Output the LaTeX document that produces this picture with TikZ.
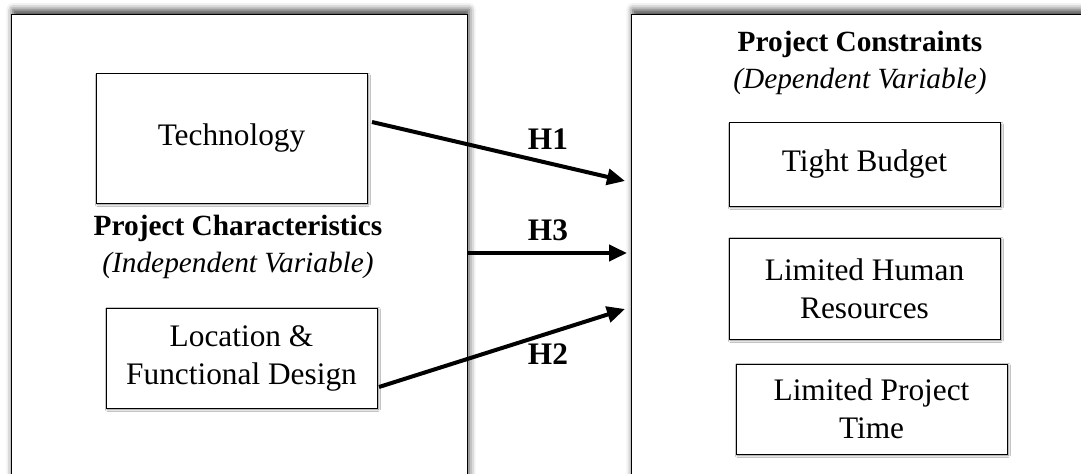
\documentclass[tikz,border=0pt]{standalone}
\usepackage{fontspec}
\setmainfont{Liberation Serif}
\usetikzlibrary{arrows.meta,shadows.blur}

\tikzset{every picture/.style={line width=0.75pt}}
\tikzset{
  txt/.style={font=\fontsize{23.5}{28.5}\selectfont, align=center},
  titletxt/.style={font=\fontsize{22}{28}\selectfont, align=center},
  outerbox/.style={draw, fill=white, minimum height=378.75pt, inner sep=0pt,
    blur shadow={shadow xshift=1.5pt, shadow yshift=4pt, shadow blur radius=5pt, shadow opacity=75}},
  varbox/.style={txt, draw, fill=white, minimum width=203.25pt, inner sep=0pt,
    blur shadow={shadow xshift=1pt, shadow yshift=-1pt, shadow blur radius=1.5pt, shadow opacity=50}},
  hyp/.style={line width=3pt, -{Triangle[length=13.5pt,width=12pt]}},
  hlabel/.style={txt, font=\fontsize{23.5}{28.5}\selectfont\bfseries}
}

\begin{document}
\begin{tikzpicture}[x=0.75pt,y=0.75pt,yscale=-1,xscale=1]
	\useasboundingbox (0,0) rectangle (1081,474);
	\clip (0,0) rectangle (1081,474);

	% Outer boxes
	\node[outerbox, minimum width=342pt] (charbox) at (239,267.5) {};
	\node[outerbox, minimum width=351.75pt] (consbox) at (865.5,267.5) {};

	% Independent variables
	\node[varbox, minimum height=96.75pt] (tech) at (231.5,138.5) {Technology};
	\node[varbox, minimum height=75pt] (loc) at (241.5,358) {Location \&\\Functional Design};
	\node[titletxt] (chartitle) at (238,247) {\textbf{Project Characteristics}\\\textit{(Independent Variable)}};

	% Dependent variables
	\node[titletxt] (constitle) at (860,63) {\textbf{Project Constraints}\\\textit{(Dependent Variable)}};
	\node[varbox, minimum height=62.25pt] (budget) at (864.5,164.5) {Tight Budget};
	\node[varbox, minimum height=75.75pt] (human) at (864.5,288.5) {Limited Human\\Resources};
	\node[varbox, minimum height=67.5pt] (ptime) at (871.5,409) {Limited Project\\Time};

	% Hypotheses
	\coordinate (h1start) at (372,122);
	\coordinate (h1end) at (625,181);
	\coordinate (h3start) at (468,253);
	\coordinate (h3end) at (627,253);
	\coordinate (h2start) at (379,387);
	\coordinate (h2end) at (625,309);
	\draw[hyp] (h1start) -- (h1end);
	\draw[hyp] (h3start) -- (h3end);
	\draw[hyp] (h2start) -- (h2end);

	\node[hlabel] (h1) at (548,139) {H1};
	\node[hlabel] (h3) at (548,230) {H3};
	\node[hlabel] (h2) at (548,354) {H2};

\end{tikzpicture}
\end{document}
